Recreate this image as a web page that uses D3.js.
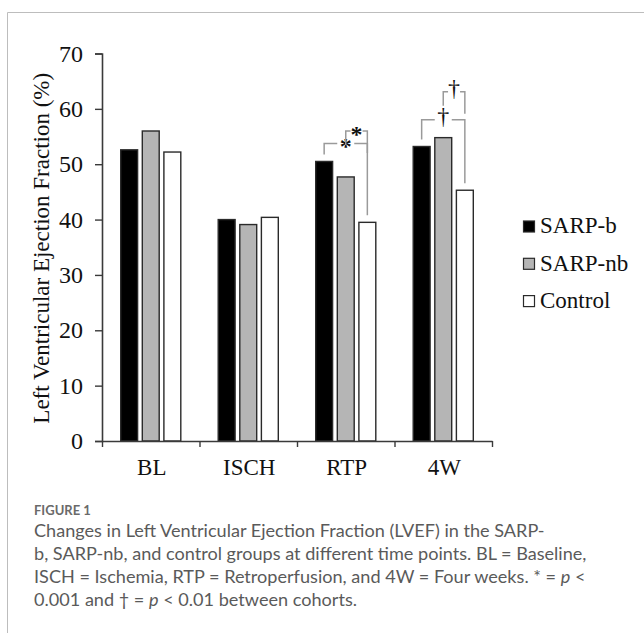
<!DOCTYPE html>
<html><head><meta charset="utf-8">
<script src="https://cdn.jsdelivr.net/npm/d3@7"></script>
<style>
html,body{margin:0;padding:0;background:#fff;}
svg{display:block;}
</style></head>
<body>
<svg id="chart" width="644" height="633"></svg>
<script>
const categories = ["BL", "ISCH", "RTP", "4W"];
const seriesNames = ["SARP-b", "SARP-nb", "Control"];
const sarpB = [52.6, 40.0, 50.5, 53.2];
const sarpNb = [56.0, 39.1, 47.7, 54.8];
const control = [52.2, 40.4, 39.5, 45.3];
const seriesValues = [sarpB, sarpNb, control];
const seriesFill = ["#000000", "#b5b5b5", "#ffffff"];
const yTicks = [0, 10, 20, 30, 40, 50, 60, 70];
const yTitle = "Left Ventricular Ejection Fraction (%)";
// significance brackets: category, from series, to series, symbol, level
const brackets = [
  {cat: "RTP", from: 0, to: 2, sym: "*", level: 0},
  {cat: "RTP", from: 1, to: 2, sym: "*", level: 1},
  {cat: "4W", from: 0, to: 2, sym: "†", level: 0},
  {cat: "4W", from: 1, to: 2, sym: "†", level: 1}
];
const captionTitle = "FIGURE 1";

(function () {
const svg = d3.select("#chart");
svg.append("path").attr("d", "M7.5,633 V12.5 H644").attr("fill", "none")
  .attr("stroke", "#bdbdbd").attr("stroke-width", 1);

const serif = "'Liberation Serif','Times New Roman',serif";
const pLeft = 102, pRight = 492, pTop = 53.5, pBottom = 441;
const y = d3.scaleLinear().domain([0, 70]).range([pBottom, pTop]);
const x0 = d3.scaleBand().domain(categories).range([pLeft, pRight]).padding(0);
const x1 = d3.scaleBand().domain(d3.range(seriesNames.length))
  .range([18.7, x0.bandwidth() - 18.7]).paddingInner(0.217).paddingOuter(0);

const g = svg.append("g");
categories.forEach((c, ci) => {
  seriesValues.forEach((vals, si) => {
    g.append("rect")
      .attr("x", x0(c) + x1(si))
      .attr("y", y(vals[ci]))
      .attr("width", x1.bandwidth())
      .attr("height", y(0) - y(vals[ci]))
      .attr("fill", seriesFill[si])
      .attr("stroke", "#2a2a2a").attr("stroke-width", 1.4);
  });
});

const yAxis = d3.axisLeft(y).tickValues(yTicks).tickSize(7).tickPadding(12);
const ya = svg.append("g").attr("transform", `translate(${pLeft},0)`).call(yAxis);
ya.select(".domain").attr("stroke", "#3a3a3a").attr("stroke-width", 1.6);
ya.selectAll(".tick line").attr("stroke", "#3a3a3a").attr("stroke-width", 1.4);
ya.selectAll(".tick text").attr("font-family", serif).attr("font-size", 24).attr("fill", "#111");

const xb = d3.scaleLinear().domain([0, categories.length]).range([pLeft, pRight]);
const xAxis = d3.axisBottom(xb).ticks(categories.length).tickSize(6).tickFormat("").tickSizeOuter(0);
const xa = svg.append("g").attr("transform", `translate(0,${pBottom})`).call(xAxis);
xa.select(".domain").attr("stroke", "#3a3a3a").attr("stroke-width", 1.6);
xa.selectAll(".tick line").attr("stroke", "#3a3a3a").attr("stroke-width", 1.4);
svg.append("g").selectAll("text").data(categories).join("text")
  .attr("x", d => x0(d) + x0.bandwidth() / 2 + 1)
  .attr("y", 475)
  .attr("text-anchor", "middle")
  .attr("font-family", serif).attr("font-size", 23).attr("fill", "#111")
  .text(d => d);

svg.append("text")
  .attr("transform", `translate(49,${(pTop + pBottom) / 2 + 1}) rotate(-90)`)
  .attr("text-anchor", "middle")
  .attr("font-family", serif).attr("font-size", 23).attr("fill", "#111")
  .text(yTitle);

const bcol = "#9a9a9a";
brackets.forEach(b => {
  const ci = categories.indexOf(b.cat);
  const xa_ = x0(b.cat) + x1(b.from) + x1.bandwidth() / 2;
  const xb_ = x0(b.cat) + x1(b.to) + x1.bandwidth() / 2;
  const topVal = d3.max(seriesValues.map(v => v[ci]).slice(b.from, b.to + 1));
  const hy = y(topVal) - 18 - b.level * 28;
  const xm = (xa_ + xb_) / 2;
  const gap = b.level === 0 ? 8.5 : 6;
  const legAy = b.level === 0 ? y(seriesValues[b.from][ci]) - 7 : hy + 14;
  const legBy = b.level === 0 ? y(seriesValues[b.to][ci]) - 7 : hy + 22;
  const bg = svg.append("g").attr("fill", "none").attr("stroke", bcol).attr("stroke-width", 1.5);
  bg.append("path").attr("d", `M${xa_},${legAy} V${hy} H${xm - gap}`);
  bg.append("path").attr("d", `M${xm + gap},${hy} H${xb_} V${legBy}`);
  svg.append("text").attr("x", xm).attr("y", b.sym === "*" ? hy + 11 : hy + 4)
    .attr("text-anchor", "middle")
    .attr("font-family", serif).attr("font-size", 24)
    .attr("font-weight", b.sym === "*" ? "bold" : "normal")
    .attr("fill", "#111").text(b.sym);
});

const lg = svg.append("g").attr("transform", "translate(523,220.5)");
seriesNames.forEach((n, i) => {
  const row = lg.append("g").attr("transform", `translate(0,${i * 37.3})`);
  row.append("rect").attr("x", 0.5).attr("y", 0.5).attr("width", 11).attr("height", 11)
    .attr("fill", seriesFill[i]).attr("stroke", "#2a2a2a").attr("stroke-width", 1.2);
  row.append("text").attr("x", 17).attr("y", 12.8)
    .attr("font-family", serif).attr("font-size", 23).attr("fill", "#111").text(n);
});

const sans = "Lato,'Open Sans',sans-serif";
svg.append("text").attr("x", 34).attr("y", 515)
  .attr("font-family", sans).attr("font-size", 13).attr("font-weight", "bold")
  .attr("fill", "#6a6a6a").text(captionTitle);
const capLines = [
  [{t: "Changes in Left Ventricular Ejection Fraction (LVEF) in the SARP-"}],
  [{t: "b, SARP-nb, and control groups at different time points. BL = Baseline,"}],
  [{t: "ISCH = Ischemia, RTP = Retroperfusion, and 4W = Four weeks. * = "}, {t: "p", i: true}, {t: " <"}],
  [{t: "0.001 and † = "}, {t: "p", i: true}, {t: " < 0.01 between cohorts."}]
];
const cap = svg.append("g").attr("font-family", sans).attr("font-size", 18.1).attr("fill", "#5a5a5a");
capLines.forEach((parts, li) => {
  const t = cap.append("text").attr("x", 34).attr("y", 537 + li * 23);
  parts.forEach(p => {
    const s = t.append("tspan").text(p.t);
    if (p.i) s.attr("font-style", "italic");
  });
});
})();
</script>
</body></html>
